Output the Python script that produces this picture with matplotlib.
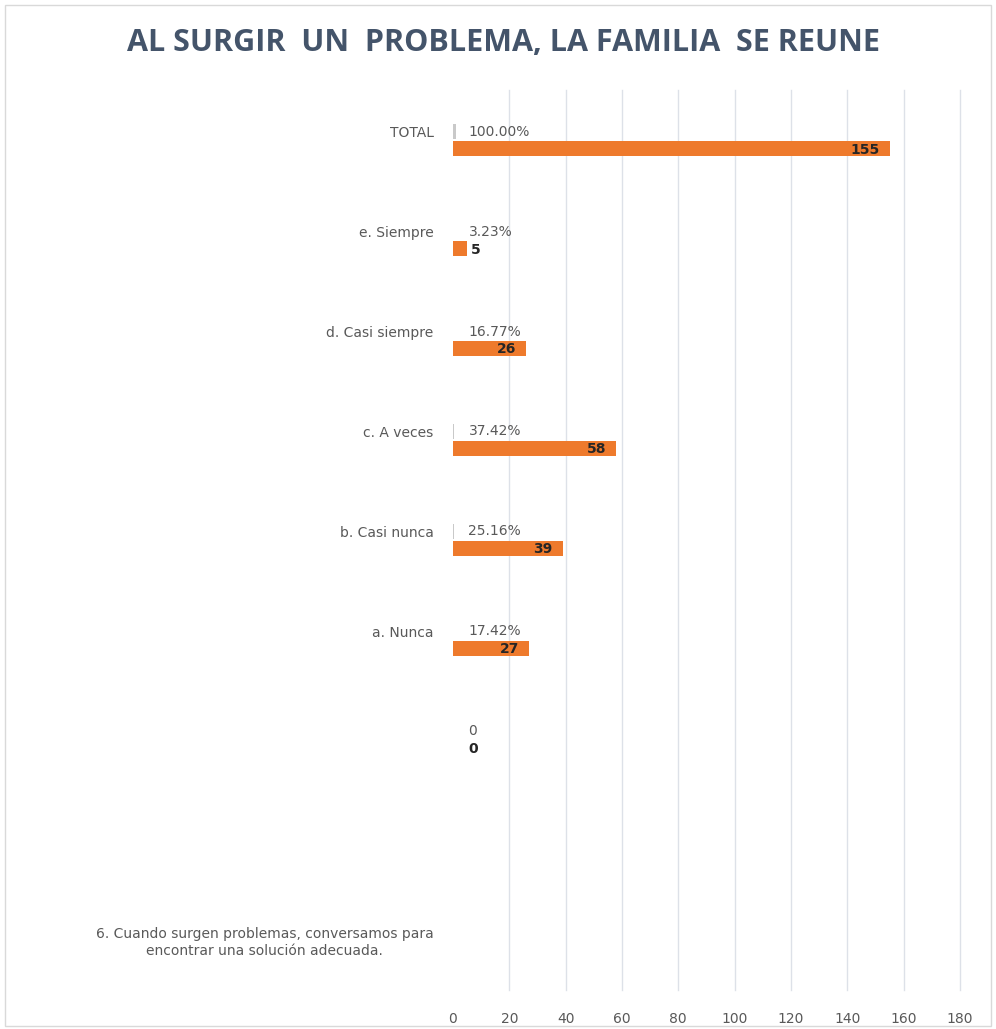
import numpy as np
import matplotlib.pyplot as plt
from matplotlib.patches import Rectangle

# datos (de arriba hacia abajo)
categorias = ["TOTAL", "e. Siempre", "d. Casi siempre", "c. A veces",
              "b. Casi nunca", "a. Nunca", "", "",
              "6. Cuando surgen problemas, conversamos para\nencontrar una solución adecuada."]
frecuencia = [155, 5, 26, 58, 39, 27, 0, np.nan, np.nan]
porcentaje = [1.0, 0.0323, 0.1677, 0.3742, 0.2516, 0.1742, 0, np.nan, np.nan]
etiq_pct = ["100.00%", "3.23%", "16.77%", "37.42%", "25.16%", "17.42%", "0", "", ""]
ticks_x = [0, 20, 40, 60, 80, 100, 120, 140, 160, 180]

naranja = "#ee7a2c"
gris_txt = "#595959"

fig = plt.figure(figsize=(9.96, 10.29), dpi=100)
fig.patches.append(Rectangle((0.005, 0.003), 0.99, 0.992, transform=fig.transFigure,
                             fill=False, edgecolor="#d9d9d9", linewidth=1))
ax = fig.add_axes([0.4548, 0.038, 0.509, 0.8745])

pos = np.arange(len(categorias))
alto = 0.15
off = 0.085

ax.barh(pos - off, porcentaje, height=alto, color="#c9c9c9")
ax.barh(pos + off, frecuencia, height=alto, color=naranja)

escala = 180 / 507  # unidades por pixel
for i, (f, p) in enumerate(zip(frecuencia, porcentaje)):
    if np.isnan(f):
        continue
    ax.text(5.5, i - off, etiq_pct[i], ha="left", va="center", fontsize=10, color=gris_txt)
    if f >= 20:
        ax.text(f - 10 * escala, i + off + 0.01, f"{int(f)}", ha="right", va="center",
                fontsize=10, color="#262626", fontweight="bold")
    else:
        xl = f + 1.2 if f > 0 else 5.5
        ax.text(xl, i + off + 0.01, f"{int(f)}", ha="left", va="center",
                fontsize=10, color="#262626", fontweight="bold")

ax.set_xlim(0, 180)
ax.set_ylim(len(categorias) - 0.5, -0.5)
ax.set_xticks(ticks_x)
ax.set_xticklabels([str(t) for t in ticks_x], fontsize=10, color=gris_txt)
ytk = [i - off if "\n" not in c else i for i, c in enumerate(categorias)]
ax.set_yticks(ytk)
ax.set_yticklabels(categorias, fontsize=10, color=gris_txt, ha="right", multialignment="center")
ax.tick_params(axis="both", length=0)
ax.tick_params(axis="y", pad=14)
ax.tick_params(axis="x", pad=16)
for s in ax.spines.values():
    s.set_visible(False)
ax.grid(axis="x", color="#dde1e8", linewidth=1)
ax.set_axisbelow(True)
for gl in ax.xaxis.get_gridlines():
    gl.set_clip_on(False)
ax.xaxis.get_gridlines()[0].set_visible(False)

fig.text(0.506, 0.958, "AL SURGIR  UN  PROBLEMA, LA FAMILIA  SE REUNE", ha="center", va="center",
         fontsize=22, fontweight="bold", color="#44546a", family="Open Sans")

fig.savefig("out.png", dpi=100)
